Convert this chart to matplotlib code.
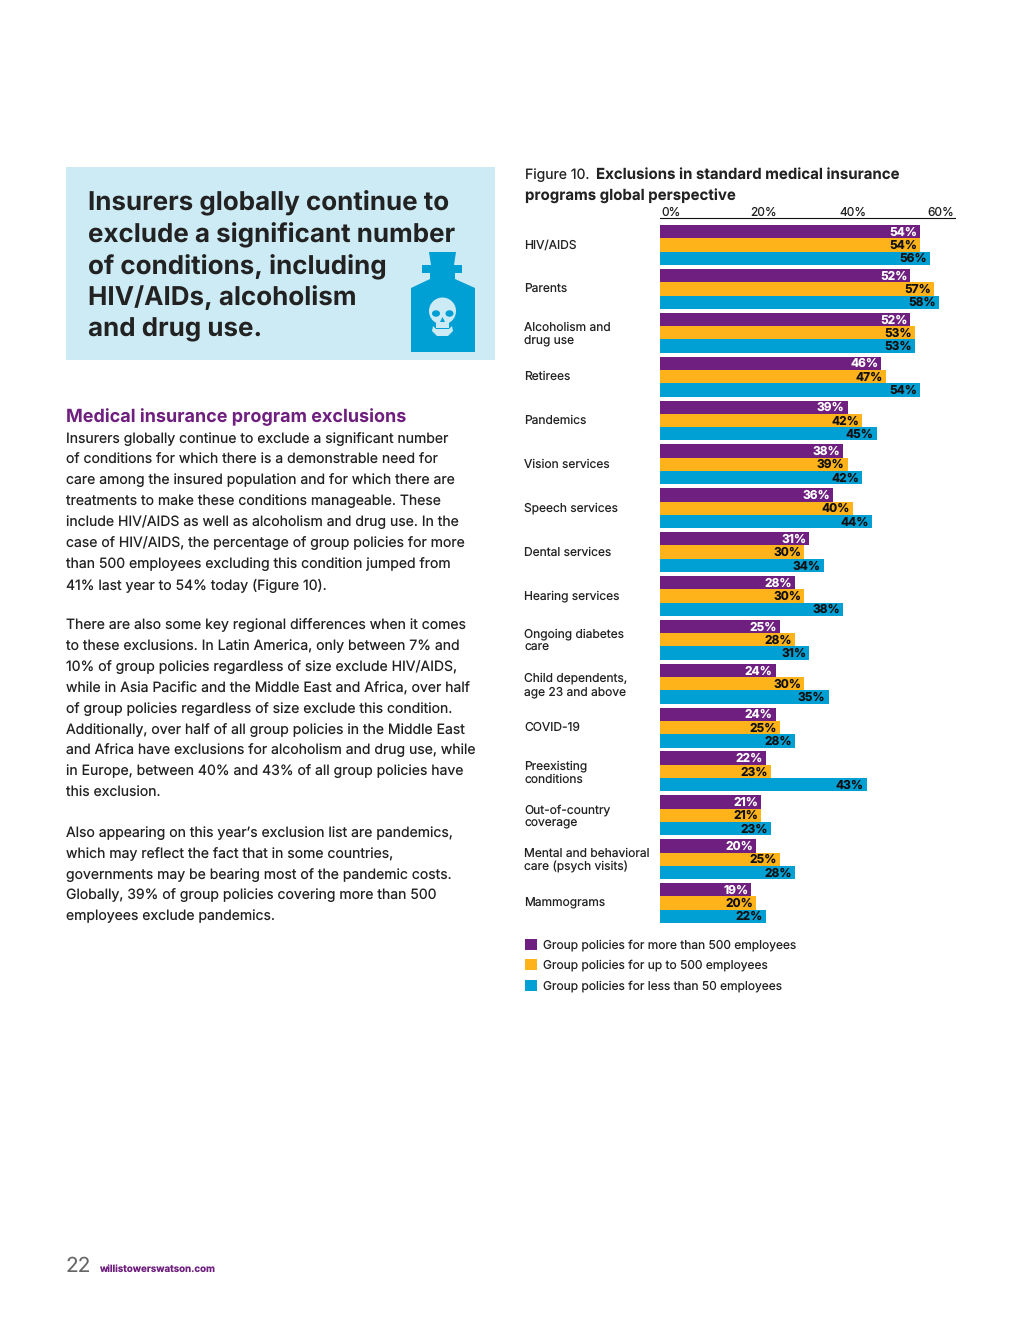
import matplotlib
matplotlib.use("Agg")
import matplotlib.pyplot as plt
from matplotlib.patches import Rectangle, Polygon, Ellipse
from matplotlib.transforms import ScaledTranslation
import numpy as np

W, H = 1020, 1320
FONT = "Inter"
plt.rcParams['font.family'] = [FONT, 'DejaVu Sans']
plt.rcParams['text.hinting'] = 'none'
plt.rcParams['text.hinting_factor'] = 1

categories = ["HIV/AIDS", "Parents", "Alcoholism and\ndrug use", "Retirees", "Pandemics",
              "Vision services", "Speech services", "Dental services", "Hearing services",
              "Ongoing diabetes\ncare", "Child dependents,\nage 23 and above", "COVID-19",
              "Preexisting\nconditions", "Out-of-country\ncoverage",
              "Mental and behavioral\ncare (psych visits)", "Mammograms"]
over_500 = [54, 52, 52, 46, 39, 38, 36, 31, 28, 25, 24, 24, 22, 21, 20, 19]
up_to_500 = [54, 57, 53, 47, 42, 39, 40, 30, 30, 28, 30, 25, 23, 21, 25, 20]
under_50 = [56, 58, 53, 54, 45, 42, 44, 34, 38, 31, 35, 28, 43, 23, 28, 22]
series_names = ["Group policies for more than 500 employees",
                "Group policies for up to 500 employees",
                "Group policies for less than 50 employees"]
x_ticks = [0, 20, 40, 60]
x_tick_labels = ["0%", "20%", "40%", "60%"]

PURPLE, ORANGE, BLUE = "#6F1F7F", "#FFB31A", "#009FD4"
INK = "#222222"
PANEL = "#CDEBF5"

fig = plt.figure(figsize=(W / 100, H / 100), dpi=100, facecolor="white")

# page layer in pixel coordinates
page = fig.add_axes([0, 0, 1, 1])
page.set_xlim(0, W)
page.set_ylim(H, 0)
page.axis("off")

page.add_patch(Rectangle((66, 167), 429, 193, fc=PANEL, ec="none"))
bottle = [(429, 252), (456, 252), (454, 265), (462, 265), (462, 273), (455, 273), (455, 279),
          (475, 288), (475, 352), (411, 352), (411, 288), (430, 279), (430, 273), (422, 273),
          (422, 265), (431, 265)]
page.add_patch(Polygon(bottle, closed=True, fc=BLUE, ec="none"))
# skull
page.add_patch(Ellipse((442.5, 311), 27, 27, fc=PANEL, ec="none"))
page.add_patch(Rectangle((436, 318), 13, 10, fc=PANEL, ec="none"))
page.add_patch(Ellipse((436, 313.5), 8, 6.5, fc=BLUE, ec="none"))
page.add_patch(Ellipse((449.5, 313.5), 8, 6.5, fc=BLUE, ec="none"))
page.add_patch(Polygon([(442.5, 317), (445, 322), (440, 322)], closed=True, fc=BLUE, ec="none"))
page.add_patch(Polygon([(433, 326), (436, 329), (449, 329), (452, 326), (453, 331), (448, 336),
                        (437, 336), (432, 331)], closed=True, fc=PANEL, ec="none"))

heading = ["Insurers globally continue to", "exclude a significant number", "of conditions, including",
           "HIV/AIDs, alcoholism", "and drug use."]
for t, y in zip(heading, [203, 235, 267, 298, 330]):
    page.text(88, y, t, fontsize=18.7, fontweight="bold", color=INK, va="center")

page.text(66, 417.5, "Medical insurance program exclusions", fontsize=12.96, fontweight="bold", color=PURPLE, va="center")

body = [
    ("Insurers globally continue to exclude a significant number", 438),
    ("of conditions for which there is a demonstrable need for", 459),
    ("care among the insured population and for which there are", 479),
    ("treatments to make these conditions manageable. These", 500),
    ("include HIV/AIDS as well as alcoholism and drug use. In the", 521),
    ("case of HIV/AIDS, the percentage of group policies for more", 542),
    ("than 500 employees excluding this condition jumped from", 563),
    ("41% last year to 54% today (Figure 10).", 584),
    ("There are also some key regional differences when it comes", 624),
    ("to these exclusions. In Latin America, only between 7% and", 645),
    ("10% of group policies regardless of size exclude HIV/AIDS,", 666),
    ("while in Asia Pacific and the Middle East and Africa, over half", 687),
    ("of group policies regardless of size exclude this condition.", 708),
    ("Additionally, over half of all group policies in the Middle East", 729),
    ("and Africa have exclusions for alcoholism and drug use, while", 749),
    ("in Europe, between 40% and 43% of all group policies have", 770),
    ("this exclusion.", 791),
    ("Also appearing on this year\u2019s exclusion list are pandemics,", 832),
    ("which may reflect the fact that in some countries,", 853),
    ("governments may be bearing most of the pandemic costs.", 874),
    ("Globally, 39% of group policies covering more than 500", 894),
    ("employees exclude pandemics.", 915),
]
for t, y in body:
    page.text(66, y + 1.5, t, fontsize=10.08, color=INK, va="center")

page.text(525, 175, "Figure 10.", fontsize=10.08, color=INK, va="center")
page.text(596, 175, "Exclusions in standard medical insurance", fontsize=10.8, fontweight="bold", color=INK, va="center")
page.text(525, 196, "programs global perspective", fontsize=10.8, fontweight="bold", color=INK, va="center")

page.text(66, 1267, "22", fontsize=15, color="#666666", va="center")
page.text(99, 1269, "willistowerswatson.com", fontsize=7.0, fontweight="bold", color=PURPLE, va="center")

# chart
left, right, top, bottom = 660, 955, 218, 923
ax = fig.add_axes([left / W, 1 - bottom / H, (right - left) / W, (bottom - top) / H])
ax.patch.set_alpha(0)
px_per_pct = 4.815
pitch = 43.87
ax.set_xlim(0, (right - left) / px_per_pct)
ax.set_ylim((bottom - 245) / pitch, (top - 245) / pitch)

ypos = np.arange(len(categories))
bar_h = 13.3 / pitch
series = [(over_500, PURPLE, "white"), (up_to_500, ORANGE, "#111111"), (under_50, BLUE, "#111111")]
for k, ((vals, col, tc), name) in enumerate(zip(series, series_names)):
    bars = ax.barh(ypos + (k - 1) * bar_h, vals, height=bar_h, color=col, label=name, linewidth=0)
    texts = ax.bar_label(bars, labels=[f"{v}%" for v in vals], padding=-2.2, color=tc, fontsize=8.64,
                         fontweight="bold", label_type="edge")
    for t in texts:
        t.set_ha("right")
        t.xyann = (t.xyann[0], -0.5)

for s in ["right", "bottom", "left"]:
    ax.spines[s].set_visible(False)
ax.spines["top"].set_linewidth(0.8)
ax.spines["top"].set_color("#111111")

ax.xaxis.tick_top()
ax.set_xticks(x_ticks)
ax.set_xticklabels(x_tick_labels, fontsize=8.64, color=INK)
ax.tick_params(axis="x", length=0, pad=-0.5)
dpi = 100
for lab, ha, dx in zip(ax.get_xticklabels(), ["left", "center", "center", "right"], [1, 7, 0.5, 5]):
    lab.set_ha(ha)
    lab.set_transform(lab.get_transform() + ScaledTranslation(dx / dpi, 0, fig.dpi_scale_trans))

ax.set_yticks(ypos)
ax.set_yticklabels(categories, fontsize=8.64, color=INK, ha="left", linespacing=1.22)
ax.tick_params(axis="y", length=0, pad=135.5 * 0.72)
for lab in ax.get_yticklabels():
    lab.set_transform(lab.get_transform() + ScaledTranslation(0, 1 / dpi, fig.dpi_scale_trans))

handles, labels = ax.get_legend_handles_labels()
fs = 8.64
fs_px = fs / 0.72
leg = fig.legend(handles, labels, loc="upper left", bbox_to_anchor=(525 / W, 1 - 939 / H),
                 bbox_transform=fig.transFigure, frameon=False, fontsize=fs, borderpad=0, borderaxespad=0,
                 handlelength=12 / fs_px, handleheight=12 / fs_px, handletextpad=6 / fs_px,
                 labelspacing=0.7, labelcolor=INK)

fig.savefig("out.png", dpi=100, facecolor="white")
